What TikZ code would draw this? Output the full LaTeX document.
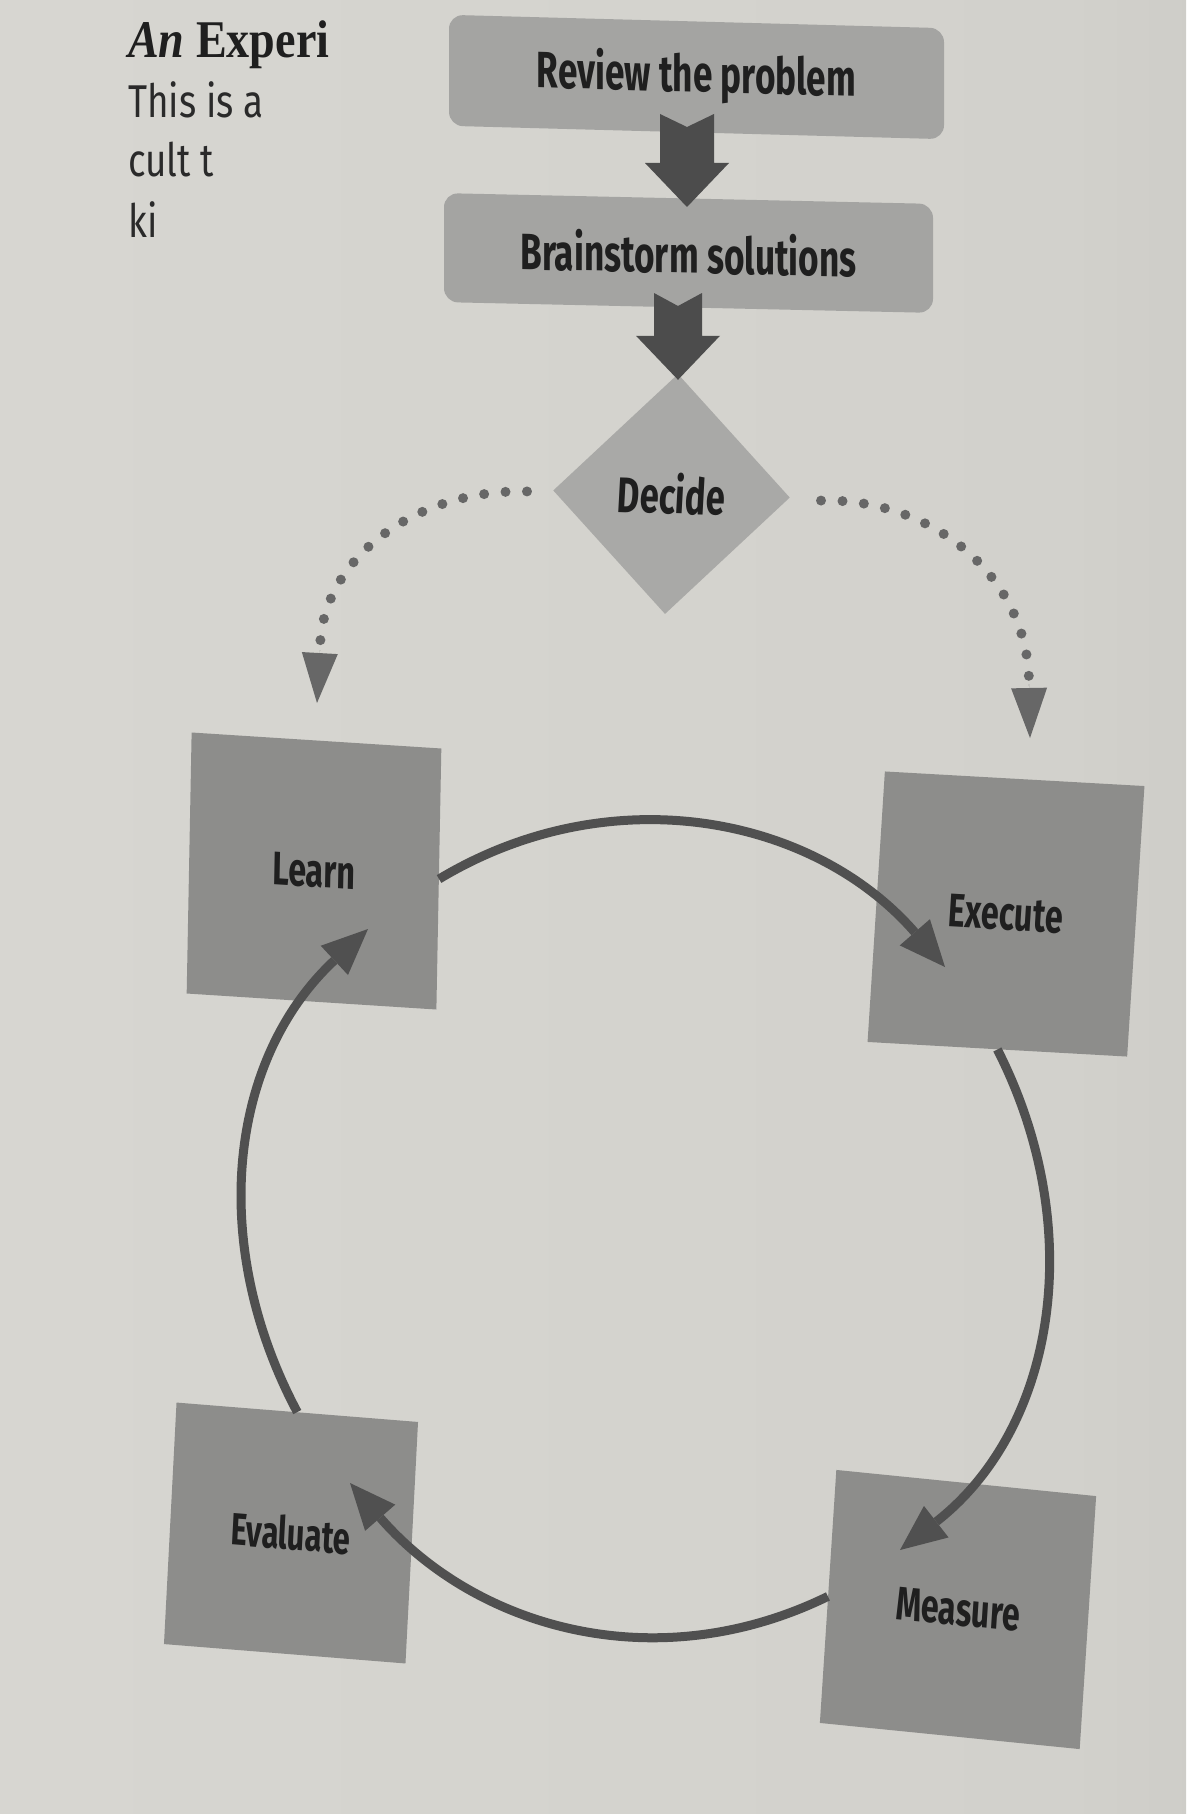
\documentclass[tikz,border=0pt]{standalone}
\usepackage{fontspec}
\usetikzlibrary{shapes.geometric,arrows.meta,calc}
\newfontfamily\dinfont{Fira Sans}[FakeStretch=0.69]
\newfontfamily\bodyfont{Fira Sans}[FakeStretch=0.8]
\newfontfamily\headfont{Liberation Serif}[FakeStretch=0.87]
\definecolor{pagel}{HTML}{DAD9D4}
\definecolor{pagem}{HTML}{D2D1CC}
\definecolor{pagen}{HTML}{C2C1BC}
\definecolor{pager}{HTML}{ACABA6}
\definecolor{topgray}{HTML}{A4A4A2}
\definecolor{diagray}{HTML}{A9A9A7}
\definecolor{sqgray}{HTML}{8D8D8B}
\definecolor{arrgray}{HTML}{4C4C4C}
\definecolor{cycgray}{HTML}{505050}
\definecolor{dotgray}{HTML}{676767}
\definecolor{txt}{HTML}{1F1F1F}
\definecolor{bodytxt}{HTML}{2A2A2A}
\pgfdeclarehorizontalshading{pageshade}{100bp}{color(0bp)=(pagel); color(70bp)=(pagem); color(92bp)=(pagen); color(100bp)=(pager)}
\newcommand{\blockarrow}[4]{% top, tip, shaft half width, head half width
  \fill[blockfill] ($(#1)+(-#3,0)$) -- ($(#1)+(0,13)$) -- ($(#1)+(#3,0)$)
    -- ($(#2)+(#3,-44)$) -- ($(#2)+(#4,-44)$) -- (#2) -- ($(#2)+(-#4,-44)$)
    -- ($(#2)+(-#3,-44)$) -- cycle;}
\begin{document}
\begin{tikzpicture}[x=1pt,y=-1pt,
  topbox/.style={fill=topgray, rounded corners=14pt, inner sep=0pt, text=txt,
    font=\dinfont\bfseries\fontsize{51}{60}\selectfont},
  sqbox/.style={fill=sqgray, inner sep=0pt, text=txt,
    font=\dinfont\bfseries\fontsize{47}{56}\selectfont},
  decbox/.style={diamond, fill=diagray, inner sep=0pt, text=txt,
    font=\dinfont\bfseries\fontsize{50}{60}\selectfont},
  blockfill/.style={fill=arrgray},
  cycarrow/.style={draw=cycgray, line width=9pt,
    -{Triangle[width=40pt,length=46pt,line width=0pt]}},
  dotline/.style={draw=dotgray, line width=10pt, line cap=round,
    dash pattern=on 0pt off 21.5pt},
  dottip/.style={draw=dotgray, line width=0.1pt,
    -{Triangle[width=36pt,length=50pt,line width=0pt]}},
  headtxt/.style={inner sep=0pt, anchor=base west, text=txt,
    font=\headfont\bfseries\fontsize{53}{60}\selectfont},
  bodytx/.style={inner sep=0pt, anchor=base west, text=bodytxt,
    font=\bodyfont\fontsize{46}{58}\selectfont}
]
\shade[shading=pageshade] (0,0) rectangle (1186,1814);
\useasboundingbox (0,0) rectangle (1186,1814);

% cut-off page text
\node[headtxt] (title) at (128,58) {\textit{An} Experi};
\node[bodytx] (line1) at (128,118) {This is a};
\node[bodytx] (line2) at (128,177) {cult t};
\node[bodytx] (line3) at (128,237) {ki};

% top steps
\node[topbox, minimum width=495pt, minimum height=111pt, yslant=-0.027] (review) at (696.5,77) {Review the problem};
\node[topbox, minimum width=489pt, minimum height=109pt, yslant=-0.022] (brainstorm) at (688.5,253) {Brainstorm solutions};
\node[decbox, minimum width=237pt, minimum height=240pt, xslant=0.054, yslant=-0.03] (decide) at (671.5,494) {Decide};

% block arrows
\coordinate (a1top) at (687,114);
\coordinate (a1tip) at (687,207);
\coordinate (a2top) at (678,293);
\coordinate (a2tip) at ($(decide.north)+(0,6)$);
\blockarrow{a1top}{a1tip}{27}{42}
\blockarrow{a2top}{a2tip}{24}{42}

% dotted branches
\coordinate (dl0) at ($(decide.west)+(-26,1)$);
\coordinate (dl1) at (320,650);
\coordinate (learnin) at (317,703);
\coordinate (dr0) at ($(decide.east)+(31,3)$);
\coordinate (dr1) at (1029,684);
\coordinate (execin) at (1030,738);
\draw[dotline] (dl0) .. controls (413,489) and (320,561) .. (dl1);
\draw[dottip] (dl1) -- (learnin);
\draw[dotline] (dr0) .. controls (936,498) and (1029,580) .. (dr1);
\draw[dottip] (dr1) -- (execin);

% cycle boxes
\node[sqbox, minimum width=250pt, minimum height=261pt, xslant=0.019, yslant=-0.064] (learn) at (314,871) {Learn};
\node[sqbox, minimum width=260.5pt, minimum height=270.5pt, xslant=0.064, yslant=-0.056] (execute) at (1006,914) {Execute};
\node[sqbox, minimum width=242.5pt, minimum height=241.5pt, xslant=0.052, yslant=-0.080, font=\dinfont\bfseries\fontsize{45}{54}\selectfont] (evaluate) at (291,1533) {Evaluate};
\node[sqbox, minimum width=261.5pt, minimum height=253pt, xslant=0.065, yslant=-0.10] (measure) at (958,1609.5) {Measure};

% cycle arrows
\coordinate (t1) at (945,967);
\coordinate (t2) at (900,1550);
\coordinate (t3) at (350,1483);
\coordinate (t4) at (368,929);
\draw[cycarrow] (learn.east) to[out=31,in=131] (t1);
\draw[cycarrow] (execute.south) to[out=-63,in=38] (t2);
\draw[cycarrow] (measure.west) to[out=-154,in=-49] (t3);
\draw[cycarrow] (evaluate.north) to[out=118,in=-137] (t4);
\end{tikzpicture}
\end{document}
